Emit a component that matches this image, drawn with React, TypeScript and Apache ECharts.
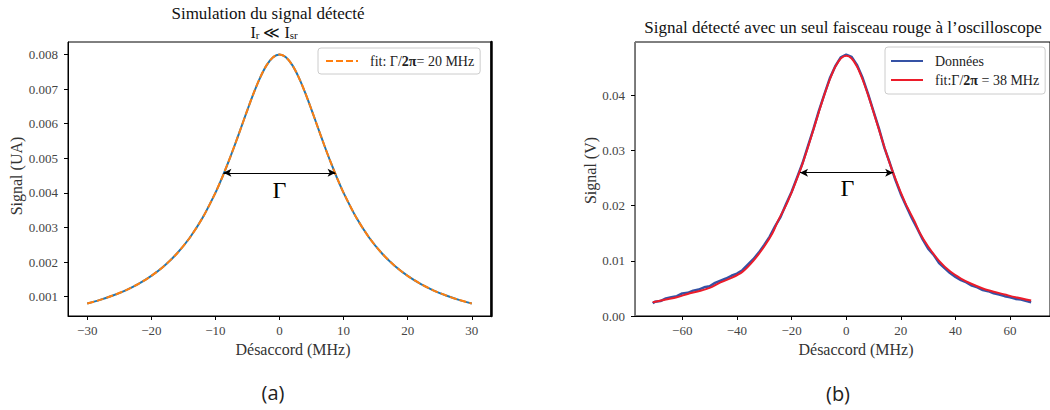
import React, { useEffect, useRef } from "react";
import * as echarts from "echarts";

// ---------- data ----------
// (a) simulated signal and its fit (identical curves)
const detuningA = [-30, -28, -26, -24, -22, -20, -18, -16, -14, -12, -10, -9, -8, -7, -6, -5, -4, -3, -2, -1, 0, 1, 2, 3, 4, 5, 6, 7, 8, 9, 10, 12, 14, 16, 18, 20, 22, 24, 26, 28, 30];
const signalA = [0.0008, 0.000905, 0.001031, 0.001183, 0.00137, 0.0016, 0.001887, 0.002247, 0.002703, 0.003279, 0.004, 0.00442, 0.004878, 0.005369, 0.005882, 0.0064, 0.006897, 0.007339, 0.007692, 0.007921, 0.008, 0.007921, 0.007692, 0.007339, 0.006897, 0.0064, 0.005882, 0.005369, 0.004878, 0.00442, 0.004, 0.003279, 0.002703, 0.002247, 0.001887, 0.0016, 0.00137, 0.001183, 0.001031, 0.000905, 0.0008];
const xTicksA = [-30, -20, -10, 0, 10, 20, 30];
const yTicksA = [0.001, 0.002, 0.003, 0.004, 0.005, 0.006, 0.007, 0.008];
const gammaArrowA = [[-8.75, 0.00458], [8.75, 0.00458]];
const gammaLabelA = [0, 0.00408];

// (b) measured signal and fit
const detuningDataB = [-70.8, -70, -68, -66, -64, -62, -60, -58, -56, -54, -52, -50, -48, -46, -44, -42, -40, -38, -36, -34, -32, -30, -28, -26, -24, -22, -20, -18, -16, -14, -12, -10, -8, -6, -4, -2, 0, 2, 4, 6, 8, 10, 12, 14, 16, 18, 20, 22, 24, 26, 28, 30, 32, 34, 36, 38, 40, 42, 44, 46, 48, 50, 52, 54, 56, 58, 60, 62, 64, 66, 67.7];
const signalDataB = [0.0023, 0.0026, 0.0027, 0.0032, 0.0034, 0.0036, 0.0041, 0.0042, 0.0046, 0.0048, 0.0052, 0.0054, 0.006, 0.0064, 0.0068, 0.0073, 0.0077, 0.0083, 0.0093, 0.0103, 0.0115, 0.0129, 0.0144, 0.0163, 0.018, 0.0203, 0.0225, 0.0251, 0.0277, 0.0308, 0.0339, 0.0372, 0.0402, 0.0431, 0.0453, 0.0469, 0.0474, 0.047, 0.0455, 0.0432, 0.0403, 0.0371, 0.034, 0.0305, 0.0277, 0.0247, 0.0221, 0.0199, 0.0178, 0.0159, 0.0139, 0.0122, 0.0111, 0.0096, 0.0087, 0.0078, 0.0071, 0.0065, 0.0061, 0.0055, 0.0052, 0.0047, 0.0045, 0.0041, 0.0039, 0.0036, 0.0034, 0.0031, 0.003, 0.0027, 0.0025];
const detuningFitB = [-70.8, -66, -62, -58, -54, -50, -46, -42, -38, -34, -30, -27, -25, -22, -20, -18, -16, -14, -12, -10, -8, -6, -4, -2, 0, 2, 4, 6, 8, 10, 12, 14, 16, 18, 20, 22, 25, 27, 30, 34, 38, 42, 46, 50, 54, 58, 62, 67.7];
const signalFitB = [0.0025, 0.003, 0.0034, 0.004, 0.0045, 0.0051, 0.0061, 0.0069, 0.008, 0.01, 0.0126, 0.015, 0.0172, 0.0201, 0.0224, 0.0249, 0.0276, 0.0306, 0.0338, 0.037, 0.0401, 0.0429, 0.0452, 0.0467, 0.0472, 0.0467, 0.0452, 0.0429, 0.0401, 0.037, 0.0338, 0.0306, 0.0276, 0.0249, 0.0224, 0.0201, 0.0172, 0.015, 0.0126, 0.01, 0.0081, 0.0068, 0.0058, 0.005, 0.0044, 0.0039, 0.0034, 0.0028];
const xTicksB = [-60, -40, -20, 0, 20, 40, 60];
const yTicksB = [0, 0.01, 0.02, 0.03, 0.04];
const gammaArrowB = [[-16.9, 0.026], [17.2, 0.026]];
const gammaLabelB = [0.5, 0.0233];

// ---------- helpers ----------
const serif = "Liberation Serif";
const zip = (xs: number[], ys: number[]) => xs.map((x, i) => [x, ys[i]]);
const minus = (v: number) => (v < 0 ? "\u2212" + Math.abs(v) : String(v));

function xAxisCfg(grid: number, min: number, max: number, ticks: number[]) {
  return {
    type: "value",
    gridIndex: grid,
    min,
    max,
    axisLine: { show: true, onZero: false, lineStyle: { color: "#000", width: 1 } },
    axisTick: { show: true, length: 4, lineStyle: { color: "#000" }, customValues: ticks },
    axisLabel: { show: true, customValues: ticks, formatter: minus, color: "#444", fontFamily: serif, fontSize: 13, margin: 8 },
    splitLine: { show: false },
    name: "Désaccord (MHz)",
    nameLocation: "middle",
    nameGap: 25,
    nameTextStyle: { fontFamily: serif, fontSize: 16, color: "#333", padding: [0, 0, 0, 27] },
  };
}

function yAxisCfg(grid: number, min: number, max: number, ticks: number[], dec: number, name: string, gap: number, lineColor: string, namePad: number[]) {
  return {
    type: "value",
    gridIndex: grid,
    min,
    max,
    axisLine: { show: true, onZero: false, lineStyle: { color: lineColor, width: 1 } },
    axisTick: { show: true, length: 4, lineStyle: { color: "#000" }, customValues: ticks },
    axisLabel: { show: true, customValues: ticks, formatter: (v: number) => v.toFixed(dec), color: "#444", fontFamily: serif, fontSize: 13, margin: 10 },
    splitLine: { show: false },
    name,
    nameLocation: "middle",
    nameGap: gap,
    nameTextStyle: { fontFamily: serif, fontSize: 16, color: "#333", padding: namePad },
  };
}

const richLegend = {
  n: { fontFamily: serif, fontSize: 14, color: "#222" },
  b: { fontFamily: serif, fontSize: 14, color: "#222", fontWeight: "bold" },
};

const option: any = {
  animation: false,
  textStyle: { fontFamily: serif },
  grid: [
    { left: 68, top: 42, width: 423, height: 274, show: true, borderColor: "#000", borderWidth: 1 },
    { left: 635, top: 42, width: 423, height: 274, show: true, borderColor: "#000", borderWidth: 1 },
  ],
  xAxis: [xAxisCfg(0, -33, 33, xTicksA), xAxisCfg(1, -77.3, 74.6, xTicksB)],
  yAxis: [
    yAxisCfg(0, 0.00044, 0.00836, yTicksA, 3, "Signal (UA)", 44, "#000", [0, 0, 0, 6]),
    yAxisCfg(1, 0, 0.0497, yTicksB, 2, "Signal (V)", 37, "#777", [0, 0, 0, 17]),
    {
      type: "value",
      gridIndex: 0,
      position: "right",
      min: 0.00044,
      max: 0.00836,
      axisLine: { show: true, onZero: false, lineStyle: { color: "#000", width: 2.5 } },
      axisTick: { show: false },
      axisLabel: { show: false },
      splitLine: { show: false },
    },
  ],
  legend: [
    {
      data: ["fit A"],
      left: 318,
      top: 48,
      orient: "vertical",
      padding: [6, 6, 6, 7],
      itemWidth: 32,
      itemHeight: 14,
      itemStyle: { opacity: 0 },
      backgroundColor: "rgba(255,255,255,0.9)",
      borderColor: "#ccc",
      borderWidth: 1,
      borderRadius: 3,
      formatter: () => "{n|fit: Γ/}{b|2π}{n|= 20 MHz}",
      textStyle: { fontFamily: serif, padding: [0, 0, 0, 7], rich: richLegend },
    },
    {
      data: ["Données", "fit B"],
      left: 885,
      top: 47,
      orient: "vertical",
      padding: [7, 6, 7, 5],
      itemGap: 5,
      itemWidth: 32,
      itemHeight: 14,
      itemStyle: { opacity: 0 },
      backgroundColor: "rgba(255,255,255,0.9)",
      borderColor: "#ccc",
      borderWidth: 1,
      borderRadius: 3,
      formatter: (name: string) => (name === "fit B" ? "{n|fit:Γ/}{b|2π}{n| = 38 MHz}" : "{n|Données}"),
      textStyle: { fontFamily: serif, padding: [0, 0, 0, 7], rich: richLegend },
    },
  ],
  graphic: [
    { type: "text", x: 268, y: 13, style: { text: "Simulation du signal détecté", font: `17px ${serif}`, fill: "#111", textAlign: "center", textVerticalAlign: "middle" } },
    {
      type: "text",
      x: 274,
      y: 32,
      style: {
        text: "{m|I}{s|r}{m| ≪ I}{s|sr}",
        textAlign: "center",
        textVerticalAlign: "middle",
        rich: {
          m: { fontFamily: serif, fontSize: 16, fill: "#111", lineHeight: 17 },
          s: { fontFamily: serif, fontSize: 11, fill: "#111", lineHeight: 8, verticalAlign: "bottom" },
        },
      },
    },
    { type: "text", x: 843, y: 27, style: { text: "Signal détecté avec un seul faisceau rouge à l’oscilloscope", font: `17px ${serif}`, fill: "#111", textAlign: "center", textVerticalAlign: "middle" } },
    { type: "text", x: 273, y: 392, style: { text: "(a)", font: "20px Open Sans", fill: "#222", textAlign: "center", textVerticalAlign: "middle" } },
    { type: "text", x: 838, y: 393, style: { text: "(b)", font: "20px Open Sans", fill: "#222", textAlign: "center", textVerticalAlign: "middle" } },
  ],
  series: [
    {
      name: "simulation",
      type: "line",
      xAxisIndex: 0,
      yAxisIndex: 0,
      data: zip(detuningA, signalA),
      showSymbol: false,
      symbol: "none",
      smooth: 0.3,
      lineStyle: { color: "#1f77b4", width: 2 },
      itemStyle: { color: "#1f77b4" },
      z: 2,
    },
    {
      name: "fit A",
      type: "line",
      xAxisIndex: 0,
      yAxisIndex: 0,
      data: zip(detuningA, signalA),
      showSymbol: false,
      symbol: "none",
      smooth: 0.3,
      lineStyle: { color: "#ff7f0e", width: 2, type: [7, 3] },
      itemStyle: { color: "#ff7f0e" },
      z: 3,
      markLine: {
        silent: true,
        symbol: ["arrow", "arrow"],
        symbolSize: [6, 8],
        lineStyle: { color: "#000", width: 1, type: "solid" },
        label: { show: false },
        data: [[{ coord: gammaArrowA[0] }, { coord: gammaArrowA[1] }]],
      },
      markPoint: {
        silent: true,
        symbol: "circle",
        symbolSize: 1,
        itemStyle: { color: "rgba(0,0,0,0)" },
        label: { show: true, position: "inside", formatter: "Γ", fontSize: 24, fontFamily: serif, color: "#000" },
        data: [{ coord: gammaLabelA }],
      },
    },
    {
      name: "Données",
      type: "line",
      xAxisIndex: 1,
      yAxisIndex: 1,
      data: zip(detuningDataB, signalDataB),
      showSymbol: false,
      symbol: "none",
      lineStyle: { color: "#3552a5", width: 2.5 },
      itemStyle: { color: "#3552a5" },
      z: 2,
    },
    {
      name: "fit B",
      type: "line",
      xAxisIndex: 1,
      yAxisIndex: 1,
      data: zip(detuningFitB, signalFitB),
      showSymbol: false,
      symbol: "none",
      smooth: 0.3,
      lineStyle: { color: "#ec1c2a", width: 2 },
      itemStyle: { color: "#ec1c2a" },
      z: 3,
      markLine: {
        silent: true,
        symbol: ["arrow", "arrow"],
        symbolSize: [6, 8],
        lineStyle: { color: "#000", width: 1, type: "solid" },
        label: { show: false },
        data: [[{ coord: gammaArrowB[0] }, { coord: gammaArrowB[1] }]],
      },
      markPoint: {
        silent: true,
        symbol: "circle",
        symbolSize: 1,
        itemStyle: { color: "rgba(0,0,0,0)" },
        label: { show: true, position: "inside", formatter: "Γ", fontSize: 24, fontFamily: serif, color: "#000" },
        data: [{ coord: gammaLabelB }],
      },
    },
  ],
};

export default function App() {
  const ref = useRef<HTMLDivElement>(null);
  useEffect(() => {
    const chart = echarts.init(ref.current as HTMLDivElement, null, { renderer: "svg" });
    chart.setOption(option);
    return () => chart.dispose();
  }, []);
  return <div ref={ref} style={{ position: "absolute", left: 0, top: 0, width: 1050, height: 410, background: "#fff" }} />;
}
